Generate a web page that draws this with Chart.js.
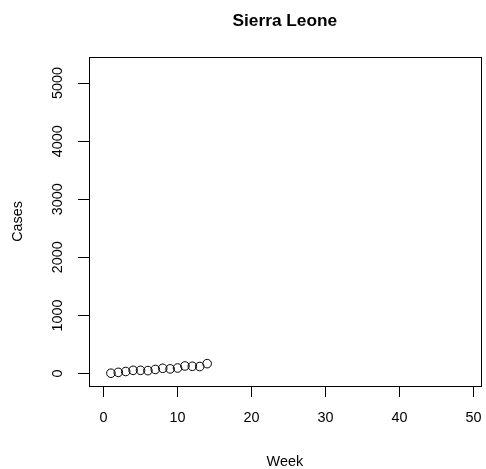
<!DOCTYPE html>
<html>
<head>
<meta charset="utf-8">
<script src="https://cdn.jsdelivr.net/npm/chart.js@4"></script>
<style>
  html, body { margin: 0; padding: 0; background: #fff; }
  #wrap { width: 486px; height: 469px; }
</style>
</head>
<body>
<div id="wrap"><canvas id="chart" width="486" height="469"></canvas></div>
<script>
// weekly case counts
const weeks = [1, 2, 3, 4, 5, 6, 7, 8, 9, 10, 11, 12, 13, 14];
const cases = [5, 20, 35, 55, 55, 50, 70, 90, 80, 95, 130, 125, 120, 170];
const xTicks = [0, 10, 20, 30, 40, 50];
const yTicks = [0, 1000, 2000, 3000, 4000, 5000];

// box around the plot area, like R's bty="o"
const boxPlugin = {
    id: 'box',
    afterDraw(chart) {
        const a = chart.chartArea;
        const ctx = chart.ctx;
        ctx.save();
        ctx.strokeStyle = '#000';
        ctx.lineWidth = 1;
        ctx.strokeRect(Math.round(a.left) + 0.5, Math.round(a.top) + 0.5,
            Math.round(a.right - a.left), Math.round(a.bottom - a.top));
        ctx.restore();
    }
};

const font = { family: 'Liberation Sans, Arial, sans-serif', size: 14.4 };

new Chart(document.getElementById('chart'), {
    type: 'scatter',
    data: {
        datasets: [{
            data: weeks.map((w, i) => ({ x: w, y: cases[i] })),
            showLine: false,
            pointRadius: 4.3,
            pointHoverRadius: 4.3,
            pointBorderWidth: 1,
            pointBorderColor: '#000',
            pointBackgroundColor: 'rgba(0,0,0,0)'
        }]
    },
    options: {
        responsive: false,
        animation: false,
        events: [],
        layout: { padding: { top: 0, right: 5, bottom: 0, left: 0 } },
        plugins: {
            legend: { display: false },
            tooltip: { enabled: false },
            title: {
                display: true,
                text: 'Sierra Leone',
                fullSize: false,
                color: '#000',
                font: { family: font.family, size: 17.3, weight: 'bold' },
                padding: { top: 10.5, bottom: 25.7 }
            }
        },
        scales: {
            x: {
                type: 'linear',
                min: -1.96,
                max: 50.96,
                afterBuildTicks: s => { s.ticks = xTicks.map(v => ({ value: v })); },
                afterFit: s => { s.height = 83; s.paddingLeft = 0; s.paddingRight = 0; },
                grid: { drawOnChartArea: false, tickLength: 11, color: '#000', tickColor: '#000' },
                border: { display: false },
                ticks: { color: '#000', font: font, padding: 12, maxRotation: 0, callback: v => String(v) },
                title: { display: true, text: 'Week', color: '#000', font: font, padding: { top: 0, bottom: -1.5 } }
            },
            y: {
                type: 'linear',
                min: -215,
                max: 5450,
                afterBuildTicks: s => { s.ticks = yTicks.map(v => ({ value: v })); },
                afterFit: s => { s.width = 89; s.paddingTop = 0; s.paddingBottom = 0; },
                grid: { drawOnChartArea: false, tickLength: 11, color: '#000', tickColor: '#000' },
                border: { display: false },
                ticks: { color: '#000', font: font, padding: 4, minRotation: 90, maxRotation: 90, crossAlign: 'center', callback: v => String(v) },
                title: { display: true, text: 'Cases', color: '#000', font: font, padding: { top: 9, bottom: 0 } }
            }
        }
    },
    plugins: [boxPlugin]
});
</script>
</body>
</html>
